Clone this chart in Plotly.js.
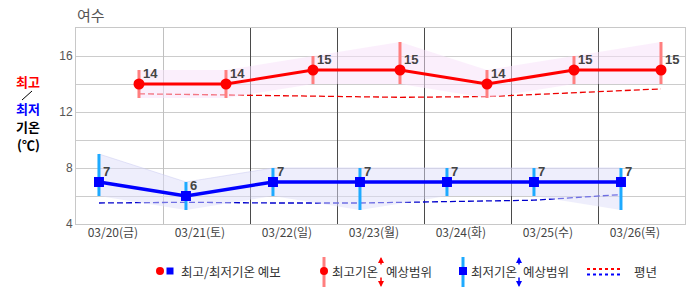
<!DOCTYPE html>
<html><head><meta charset="utf-8">
<script src="https://cdn.plot.ly/plotly-3.0.1.min.js"></script>
<style>html,body{margin:0;padding:0;background:#fff;} #chart{width:686px;height:295px;}</style>
</head><body><div id="chart"></div>
<script>
// ---- data ----
const categories = ['03/20(금)','03/21(토)','03/22(일)','03/23(월)','03/24(화)','03/25(수)','03/26(목)'];
const maxTemp = [14, 14, 15, 15, 14, 15, 15];
const maxHigh = [15, 15, 16, 17, 15, 16, 17];
const maxLow  = [13, 13, 14, 14, 13, 14, 14];
const minTemp = [7, 6, 7, 7, 7, 7, 7];
const minHigh = [9, 7, 8, 8, 8, 8, 8];
const minLow  = [6, 5, 6, 5, 6, 6, 5];
const normalMax = [13.3, 13.2, 13.1, 13.05, 13.1, 13.4, 13.65];
const normalMin = [5.5, 5.55, 5.5, 5.5, 5.6, 5.7, 6.1];
const yTicks = [4, 6, 8, 10, 12, 14, 16, 18];
const yTickText = ['4', '', '8', '', '12', '', '16', ''];

// ---- layout constants ----
const W = 686, H = 295, L = 76, T = 28, PW = 609, PH = 196;
const X_RANGE = [-0.724, 6.276];
const BLUE_OFF = -0.46, LABEL_OFF = -0.3, GRID_OFF = 0.287;
const px = x => (x - L) / PW;
const py = y => (T + PH - y) / PH;

const idx = categories.map((c, i) => i);
const xRed = idx.map(i => i);
const xBlue = idx.map(i => i + BLUE_OFF);

const RED = '#ff0000', BLUE = '#0000ff', RED_BAR = '#ff7f7f', BLUE_BAR = '#1eaaff';

const traces = [
  {x: xRed, y: normalMax, mode: 'lines', line: {color: '#ee0000', width: 1.3, dash: '6px,3px'}, hoverinfo: 'skip'},
  {x: xBlue, y: normalMin, mode: 'lines', line: {color: '#0000cc', width: 1.3, dash: '6px,3px'}, hoverinfo: 'skip'},
  {x: xRed, y: maxLow, mode: 'lines', line: {width: 0, color: 'rgba(0,0,0,0)'}, hoverinfo: 'skip'},
  {x: xRed, y: maxHigh, mode: 'lines', line: {width: 0, color: 'rgba(0,0,0,0)'}, fill: 'tonexty', fillcolor: 'rgba(247,224,249,0.53)', hoverinfo: 'skip'},
  {x: xBlue, y: minLow, mode: 'lines', line: {width: 0, color: 'rgba(0,0,0,0)'}, hoverinfo: 'skip'},
  {x: xBlue, y: minHigh, mode: 'lines', line: {width: 0.8, color: 'rgba(200,200,240,0.6)'}, fill: 'tonexty', fillcolor: 'rgba(221,221,249,0.5)', hoverinfo: 'skip'},
  {x: xRed, y: maxTemp, mode: 'markers', marker: {size: 1, color: 'rgba(0,0,0,0)'},
   error_y: {type: 'data', symmetric: false, array: maxHigh.map((v, i) => v - maxTemp[i]), arrayminus: maxTemp.map((v, i) => v - maxLow[i]), color: RED_BAR, thickness: 3, width: 0}},
  {x: xBlue, y: minTemp, mode: 'markers', marker: {size: 1, color: 'rgba(0,0,0,0)'},
   error_y: {type: 'data', symmetric: false, array: minHigh.map((v, i) => v - minTemp[i]), arrayminus: minTemp.map((v, i) => v - minLow[i]), color: BLUE_BAR, thickness: 3, width: 0}},
  {x: xRed, y: maxTemp, mode: 'lines+markers', line: {color: RED, width: 3}, marker: {symbol: 'circle', size: 11, color: RED}},
  {x: xBlue, y: minTemp, mode: 'lines+markers', line: {color: BLUE, width: 3.5}, marker: {symbol: 'square', size: 10, color: BLUE}},
  {x: [], y: [], xaxis: 'x2', mode: 'markers'},
  {x: [], y: [], xaxis: 'x3', mode: 'markers'}
];

const labelFont = {family: 'Liberation Sans, Arial, sans-serif', size: 13, color: '#444'};
const annotations = [];
maxTemp.forEach((v, i) => annotations.push({x: xRed[i], y: v, text: '<b>' + v + '</b>', showarrow: false, xanchor: 'left', yanchor: 'bottom', xshift: 2, yshift: 1, font: labelFont}));
minTemp.forEach((v, i) => annotations.push({x: xBlue[i], y: v, text: '<b>' + v + '</b>', showarrow: false, xanchor: 'left', yanchor: 'bottom', xshift: 2, yshift: 1, font: labelFont}));

const kr = 'Noto Sans CJK KR, sans-serif';
function txt(x, y, text, color, size, anchor, bold) {
  annotations.push({xref: 'paper', yref: 'paper', x: px(x), y: py(y), text: bold ? '<b>' + text + '</b>' : text, showarrow: false,
    xanchor: anchor || 'left', yanchor: 'middle', font: {family: kr, size: size || 12.5, color: color || '#333'}});
}
// left axis caption
txt(28, 81, '최고', '#ff0000', 13, 'center', true);
txt(28, 108.5, '최저', '#0000ff', 13, 'center', true);
txt(28, 127, '기온', '#000', 13, 'center', true);
txt(28, 144, '(℃)', '#000', 13, 'center', true);
// legend texts
txt(179, 271, '최고/최저기온 예보');
txt(330, 271, '최고기온');
txt(384, 271, '예상범위');
txt(469, 271, '최저기온');
txt(521, 271, '예상범위');
txt(632, 271, '평년');
function arrow(x, yHead, yTail, color) {
  annotations.push({xref: 'paper', yref: 'paper', x: px(x), y: py(yHead), ax: 0, ay: yTail - yHead, text: '', showarrow: true,
    arrowhead: 2, arrowsize: 0.8, arrowwidth: 1.5, arrowcolor: color});
}
arrow(381, 257, 266, RED); arrow(381, 287, 276, RED);
arrow(519, 257, 266, BLUE); arrow(519, 287, 276, BLUE);

const shapes = [];
const P = {xref: 'paper', yref: 'paper'};
shapes.push(Object.assign({type: 'line', x0: px(22), y0: py(100), x1: px(32), y1: py(91), line: {color: '#000', width: 1}}, P));
// legend glyphs
shapes.push(Object.assign({type: 'circle', x0: px(156), x1: px(164), y0: py(275), y1: py(267), fillcolor: RED, line: {width: 0}}, P));
shapes.push(Object.assign({type: 'rect', x0: px(166.5), x1: px(173.5), y0: py(274.5), y1: py(267.5), fillcolor: BLUE, line: {width: 0}}, P));
shapes.push(Object.assign({type: 'line', x0: px(324), x1: px(324), y0: py(257), y1: py(287), line: {color: RED_BAR, width: 3}}, P));
shapes.push(Object.assign({type: 'circle', x0: px(320), x1: px(328), y0: py(275), y1: py(267), fillcolor: RED, line: {width: 0}}, P));
shapes.push(Object.assign({type: 'line', x0: px(463), x1: px(463), y0: py(257), y1: py(287), line: {color: BLUE_BAR, width: 3}}, P));
shapes.push(Object.assign({type: 'rect', x0: px(459), x1: px(467), y0: py(275), y1: py(267), fillcolor: BLUE, line: {width: 0}}, P));
shapes.push(Object.assign({type: 'line', x0: px(587), x1: px(623), y0: py(269), y1: py(269), line: {color: RED, width: 2, dash: 'dot'}}, P));
shapes.push(Object.assign({type: 'line', x0: px(587), x1: px(623), y0: py(274.5), y1: py(274.5), line: {color: BLUE, width: 2, dash: 'dot'}}, P));

const layout = {
  width: W, height: H,
  margin: {l: L, r: W - L - PW, t: T, b: H - T - PH, pad: 0},
  paper_bgcolor: '#fff', plot_bgcolor: '#fff',
  showlegend: false,
  title: {text: '여수', font: {family: kr, size: 15, color: '#555'}, xref: 'container', yref: 'container', x: 77 / W, xanchor: 'left', y: 1 - 16 / H, yanchor: 'middle'},
  xaxis: {range: X_RANGE, tickmode: 'array', tickvals: idx.map(i => i + LABEL_OFF), ticktext: categories,
    showgrid: false, zeroline: false, showline: true, mirror: true, linecolor: '#c8c8c8', linewidth: 1, ticks: '',
    ticklabelstandoff: -2,
    tickfont: {family: kr, size: 12, color: '#444'}, fixedrange: true},
  xaxis2: {range: X_RANGE, overlaying: 'x', anchor: 'y', tickmode: 'array', tickvals: [GRID_OFF], showgrid: true, gridcolor: '#c0c0c0', gridwidth: 1,
    showticklabels: false, ticks: '', zeroline: false, showline: false},
  xaxis3: {range: X_RANGE, overlaying: 'x', anchor: 'y', tickmode: 'array', tickvals: idx.slice(1, 6).map(i => i + GRID_OFF), showgrid: true, gridcolor: '#4a4a4a', gridwidth: 1,
    showticklabels: false, ticks: '', zeroline: false, showline: false},
  yaxis: {range: [4, 18], tickmode: 'array', tickvals: yTicks, ticktext: yTickText, showgrid: true, gridcolor: '#cccccc', gridwidth: 1,
    zeroline: false, showline: true, mirror: true, linecolor: '#c8c8c8', ticks: '',
    tickfont: {family: 'Liberation Sans, Arial, sans-serif', size: 12, color: '#555'}, fixedrange: true},
  annotations: annotations,
  shapes: shapes
};

Plotly.newPlot('chart', traces, layout, {staticPlot: true, displayModeBar: false});
</script>
</body></html>
